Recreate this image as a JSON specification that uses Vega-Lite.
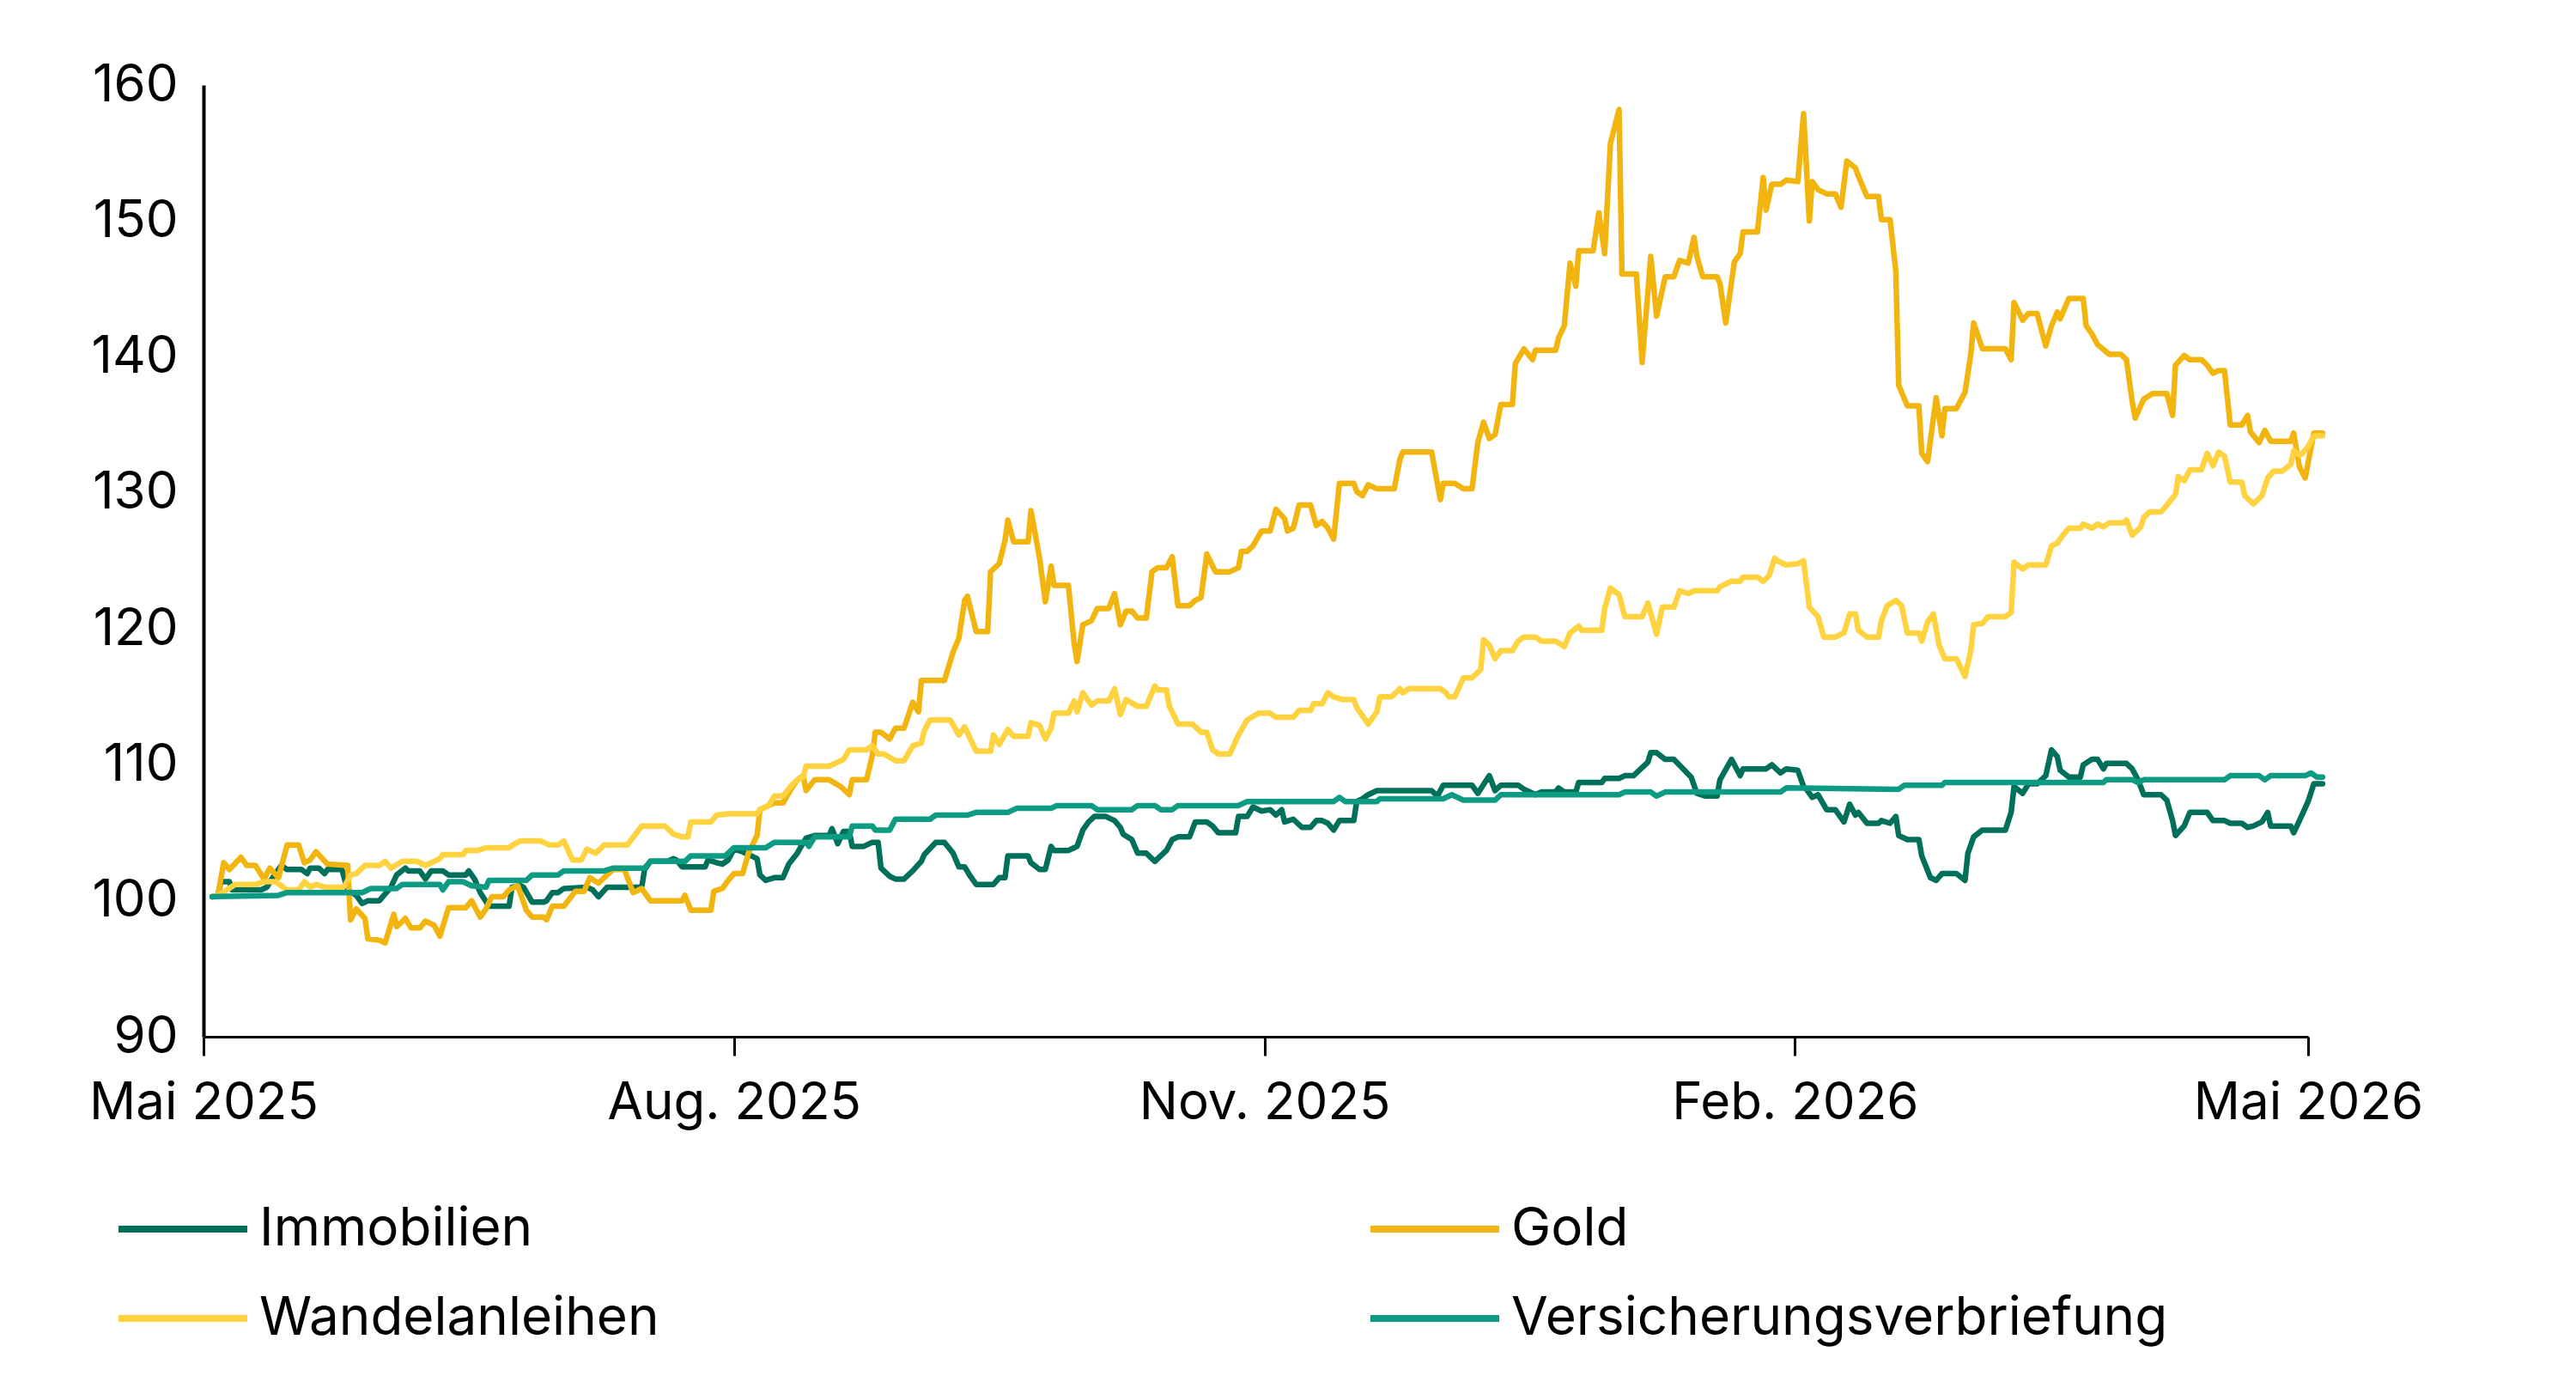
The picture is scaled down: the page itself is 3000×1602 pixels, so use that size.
{
  "$schema": "https://vega.github.io/schema/vega-lite/v6.json",
  "width": 2451,
  "height": 1108,
  "autosize": {"type": "none"},
  "padding": {"left": 237, "top": 99, "right": 312, "bottom": 395},
  "background": "white",
  "config": {
    "view": {"stroke": null},
    "font": "Inter",
    "axis": {"labelFont": "Inter", "labelColor": "#000000", "domainColor": "#000000", "tickColor": "#000000", "grid": false, "title": null},
    "legend": {"labelFont": "Inter", "labelColor": "#000000"}
  },
  "data": {"values": [
{"date":"2025-05-02T12:00","series":"Immobilien","value":100.3},
{"date":"2025-05-03T12:00","series":"Immobilien","value":100.4},
{"date":"2025-05-04T00:00","series":"Immobilien","value":101.4},
{"date":"2025-05-05T12:00","series":"Immobilien","value":101.4},
{"date":"2025-05-06T00:00","series":"Immobilien","value":100.8},
{"date":"2025-05-11T00:00","series":"Immobilien","value":100.8},
{"date":"2025-05-12T00:00","series":"Immobilien","value":101.0},
{"date":"2025-05-13T00:00","series":"Immobilien","value":101.7},
{"date":"2025-05-14T12:00","series":"Immobilien","value":102.6},
{"date":"2025-05-15T12:00","series":"Immobilien","value":102.3},
{"date":"2025-05-18T00:00","series":"Immobilien","value":102.3},
{"date":"2025-05-19T00:00","series":"Immobilien","value":102.0},
{"date":"2025-05-19T12:00","series":"Immobilien","value":102.4},
{"date":"2025-05-21T00:00","series":"Immobilien","value":102.4},
{"date":"2025-05-22T00:00","series":"Immobilien","value":102.0},
{"date":"2025-05-22T12:00","series":"Immobilien","value":102.3},
{"date":"2025-05-25T00:00","series":"Immobilien","value":102.3},
{"date":"2025-05-26T00:00","series":"Immobilien","value":100.8},
{"date":"2025-05-27T12:00","series":"Immobilien","value":100.4},
{"date":"2025-05-28T12:00","series":"Immobilien","value":99.8},
{"date":"2025-05-29T12:00","series":"Immobilien","value":100.0},
{"date":"2025-05-31T12:00","series":"Immobilien","value":100.0},
{"date":"2025-06-02T12:00","series":"Immobilien","value":101.0},
{"date":"2025-06-03T12:00","series":"Immobilien","value":101.9},
{"date":"2025-06-05T00:00","series":"Immobilien","value":102.4},
{"date":"2025-06-05T12:00","series":"Immobilien","value":102.2},
{"date":"2025-06-07T12:00","series":"Immobilien","value":102.2},
{"date":"2025-06-08T12:00","series":"Immobilien","value":101.6},
{"date":"2025-06-09T12:00","series":"Immobilien","value":102.2},
{"date":"2025-06-11T12:00","series":"Immobilien","value":102.2},
{"date":"2025-06-12T12:00","series":"Immobilien","value":101.9},
{"date":"2025-06-15T12:00","series":"Immobilien","value":101.9},
{"date":"2025-06-16T00:00","series":"Immobilien","value":102.2},
{"date":"2025-06-17T00:00","series":"Immobilien","value":101.6},
{"date":"2025-06-18T00:00","series":"Immobilien","value":100.6},
{"date":"2025-06-19T12:00","series":"Immobilien","value":99.6},
{"date":"2025-06-23T00:00","series":"Immobilien","value":99.6},
{"date":"2025-06-23T12:00","series":"Immobilien","value":101.0},
{"date":"2025-06-25T00:00","series":"Immobilien","value":101.1},
{"date":"2025-06-25T12:00","series":"Immobilien","value":101.0},
{"date":"2025-06-27T00:00","series":"Immobilien","value":99.9},
{"date":"2025-06-29T00:00","series":"Immobilien","value":99.9},
{"date":"2025-06-29T12:00","series":"Immobilien","value":100.0},
{"date":"2025-06-30T12:00","series":"Immobilien","value":100.6},
{"date":"2025-07-01T12:00","series":"Immobilien","value":100.6},
{"date":"2025-07-02T12:00","series":"Immobilien","value":100.9},
{"date":"2025-07-06T12:00","series":"Immobilien","value":101.0},
{"date":"2025-07-07T12:00","series":"Immobilien","value":100.8},
{"date":"2025-07-08T12:00","series":"Immobilien","value":100.3},
{"date":"2025-07-10T00:00","series":"Immobilien","value":101.0},
{"date":"2025-07-16T00:00","series":"Immobilien","value":101.0},
{"date":"2025-07-16T12:00","series":"Immobilien","value":102.3},
{"date":"2025-07-17T12:00","series":"Immobilien","value":102.9},
{"date":"2025-07-20T12:00","series":"Immobilien","value":102.9},
{"date":"2025-07-21T12:00","series":"Immobilien","value":103.1},
{"date":"2025-07-22T00:00","series":"Immobilien","value":103.0},
{"date":"2025-07-23T00:00","series":"Immobilien","value":102.5},
{"date":"2025-07-27T00:00","series":"Immobilien","value":102.5},
{"date":"2025-07-27T12:00","series":"Immobilien","value":103.0},
{"date":"2025-07-29T00:00","series":"Immobilien","value":102.8},
{"date":"2025-07-30T00:00","series":"Immobilien","value":102.7},
{"date":"2025-07-31T00:00","series":"Immobilien","value":103.0},
{"date":"2025-08-01T00:00","series":"Immobilien","value":103.8},
{"date":"2025-08-02T12:00","series":"Immobilien","value":103.6},
{"date":"2025-08-03T12:00","series":"Immobilien","value":103.4},
{"date":"2025-08-05T00:00","series":"Immobilien","value":103.1},
{"date":"2025-08-05T12:00","series":"Immobilien","value":101.9},
{"date":"2025-08-06T12:00","series":"Immobilien","value":101.5},
{"date":"2025-08-08T00:00","series":"Immobilien","value":101.7},
{"date":"2025-08-09T12:00","series":"Immobilien","value":101.7},
{"date":"2025-08-10T12:00","series":"Immobilien","value":102.7},
{"date":"2025-08-12T00:00","series":"Immobilien","value":103.5},
{"date":"2025-08-12T12:00","series":"Immobilien","value":103.9},
{"date":"2025-08-13T12:00","series":"Immobilien","value":104.6},
{"date":"2025-08-15T00:00","series":"Immobilien","value":104.8},
{"date":"2025-08-17T12:00","series":"Immobilien","value":104.8},
{"date":"2025-08-18T00:00","series":"Immobilien","value":105.3},
{"date":"2025-08-19T00:00","series":"Immobilien","value":104.2},
{"date":"2025-08-20T00:00","series":"Immobilien","value":105.1},
{"date":"2025-08-21T00:00","series":"Immobilien","value":105.1},
{"date":"2025-08-21T12:00","series":"Immobilien","value":104.0},
{"date":"2025-08-23T12:00","series":"Immobilien","value":104.0},
{"date":"2025-08-25T00:00","series":"Immobilien","value":104.3},
{"date":"2025-08-26T00:00","series":"Immobilien","value":104.3},
{"date":"2025-08-26T12:00","series":"Immobilien","value":102.4},
{"date":"2025-08-28T00:00","series":"Immobilien","value":101.8},
{"date":"2025-08-29T00:00","series":"Immobilien","value":101.6},
{"date":"2025-08-30T12:00","series":"Immobilien","value":101.6},
{"date":"2025-09-01T00:00","series":"Immobilien","value":102.2},
{"date":"2025-09-02T12:00","series":"Immobilien","value":102.9},
{"date":"2025-09-03T00:00","series":"Immobilien","value":103.4},
{"date":"2025-09-05T00:00","series":"Immobilien","value":104.3},
{"date":"2025-09-06T12:00","series":"Immobilien","value":104.3},
{"date":"2025-09-08T00:00","series":"Immobilien","value":103.5},
{"date":"2025-09-09T00:00","series":"Immobilien","value":102.5},
{"date":"2025-09-10T00:00","series":"Immobilien","value":102.5},
{"date":"2025-09-11T00:00","series":"Immobilien","value":101.8},
{"date":"2025-09-12T00:00","series":"Immobilien","value":101.2},
{"date":"2025-09-15T00:00","series":"Immobilien","value":101.2},
{"date":"2025-09-16T00:00","series":"Immobilien","value":101.7},
{"date":"2025-09-17T00:00","series":"Immobilien","value":101.7},
{"date":"2025-09-17T12:00","series":"Immobilien","value":103.3},
{"date":"2025-09-21T00:00","series":"Immobilien","value":103.3},
{"date":"2025-09-21T12:00","series":"Immobilien","value":102.8},
{"date":"2025-09-23T00:00","series":"Immobilien","value":102.3},
{"date":"2025-09-24T00:00","series":"Immobilien","value":102.3},
{"date":"2025-09-25T00:00","series":"Immobilien","value":104.0},
{"date":"2025-09-25T12:00","series":"Immobilien","value":103.7},
{"date":"2025-09-28T00:00","series":"Immobilien","value":103.7},
{"date":"2025-09-29T00:00","series":"Immobilien","value":103.9},
{"date":"2025-09-29T12:00","series":"Immobilien","value":104.0},
{"date":"2025-09-30T12:00","series":"Immobilien","value":105.2},
{"date":"2025-10-01T12:00","series":"Immobilien","value":105.8},
{"date":"2025-10-02T12:00","series":"Immobilien","value":106.2},
{"date":"2025-10-04T12:00","series":"Immobilien","value":106.2},
{"date":"2025-10-06T00:00","series":"Immobilien","value":105.9},
{"date":"2025-10-07T00:00","series":"Immobilien","value":105.4},
{"date":"2025-10-07T12:00","series":"Immobilien","value":104.9},
{"date":"2025-10-09T00:00","series":"Immobilien","value":104.5},
{"date":"2025-10-10T00:00","series":"Immobilien","value":103.5},
{"date":"2025-10-11T12:00","series":"Immobilien","value":103.5},
{"date":"2025-10-13T00:00","series":"Immobilien","value":102.9},
{"date":"2025-10-15T00:00","series":"Immobilien","value":103.7},
{"date":"2025-10-16T00:00","series":"Immobilien","value":104.5},
{"date":"2025-10-17T00:00","series":"Immobilien","value":104.7},
{"date":"2025-10-19T00:00","series":"Immobilien","value":104.7},
{"date":"2025-10-20T00:00","series":"Immobilien","value":105.8},
{"date":"2025-10-22T00:00","series":"Immobilien","value":105.8},
{"date":"2025-10-23T00:00","series":"Immobilien","value":105.5},
{"date":"2025-10-24T00:00","series":"Immobilien","value":105.0},
{"date":"2025-10-27T00:00","series":"Immobilien","value":105.0},
{"date":"2025-10-27T12:00","series":"Immobilien","value":106.2},
{"date":"2025-10-29T00:00","series":"Immobilien","value":106.2},
{"date":"2025-10-30T00:00","series":"Immobilien","value":106.9},
{"date":"2025-10-31T12:00","series":"Immobilien","value":106.6},
{"date":"2025-11-02T00:00","series":"Immobilien","value":106.7},
{"date":"2025-11-03T00:00","series":"Immobilien","value":106.3},
{"date":"2025-11-04T00:00","series":"Immobilien","value":106.7},
{"date":"2025-11-04T12:00","series":"Immobilien","value":105.8},
{"date":"2025-11-06T00:00","series":"Immobilien","value":106.0},
{"date":"2025-11-07T12:00","series":"Immobilien","value":105.4},
{"date":"2025-11-09T00:00","series":"Immobilien","value":105.4},
{"date":"2025-11-10T00:00","series":"Immobilien","value":105.9},
{"date":"2025-11-11T00:00","series":"Immobilien","value":105.9},
{"date":"2025-11-12T00:00","series":"Immobilien","value":105.7},
{"date":"2025-11-13T00:00","series":"Immobilien","value":105.2},
{"date":"2025-11-14T00:00","series":"Immobilien","value":105.9},
{"date":"2025-11-16T12:00","series":"Immobilien","value":105.9},
{"date":"2025-11-17T00:00","series":"Immobilien","value":107.3},
{"date":"2025-11-18T00:00","series":"Immobilien","value":107.5},
{"date":"2025-11-19T00:00","series":"Immobilien","value":107.8},
{"date":"2025-11-20T12:00","series":"Immobilien","value":108.1},
{"date":"2025-11-30T00:00","series":"Immobilien","value":108.1},
{"date":"2025-12-01T00:00","series":"Immobilien","value":107.7},
{"date":"2025-12-02T00:00","series":"Immobilien","value":108.5},
{"date":"2025-12-07T00:00","series":"Immobilien","value":108.5},
{"date":"2025-12-08T00:00","series":"Immobilien","value":107.9},
{"date":"2025-12-10T00:00","series":"Immobilien","value":109.2},
{"date":"2025-12-11T00:00","series":"Immobilien","value":108.1},
{"date":"2025-12-12T00:00","series":"Immobilien","value":108.5},
{"date":"2025-12-15T00:00","series":"Immobilien","value":108.5},
{"date":"2025-12-16T00:00","series":"Immobilien","value":108.2},
{"date":"2025-12-18T00:00","series":"Immobilien","value":107.8},
{"date":"2025-12-19T00:00","series":"Immobilien","value":108.0},
{"date":"2025-12-21T12:00","series":"Immobilien","value":108.0},
{"date":"2025-12-22T00:00","series":"Immobilien","value":108.3},
{"date":"2025-12-23T00:00","series":"Immobilien","value":108.0},
{"date":"2025-12-25T00:00","series":"Immobilien","value":108.0},
{"date":"2025-12-25T12:00","series":"Immobilien","value":108.7},
{"date":"2025-12-29T12:00","series":"Immobilien","value":108.7},
{"date":"2025-12-30T00:00","series":"Immobilien","value":109.0},
{"date":"2026-01-01T12:00","series":"Immobilien","value":109.0},
{"date":"2026-01-02T12:00","series":"Immobilien","value":109.2},
{"date":"2026-01-04T00:00","series":"Immobilien","value":109.2},
{"date":"2026-01-06T12:00","series":"Immobilien","value":110.2},
{"date":"2026-01-07T00:00","series":"Immobilien","value":110.9},
{"date":"2026-01-08T00:00","series":"Immobilien","value":110.9},
{"date":"2026-01-09T12:00","series":"Immobilien","value":110.4},
{"date":"2026-01-11T00:00","series":"Immobilien","value":110.4},
{"date":"2026-01-14T00:00","series":"Immobilien","value":109.1},
{"date":"2026-01-15T00:00","series":"Immobilien","value":107.9},
{"date":"2026-01-16T12:00","series":"Immobilien","value":107.7},
{"date":"2026-01-18T12:00","series":"Immobilien","value":107.7},
{"date":"2026-01-19T00:00","series":"Immobilien","value":108.9},
{"date":"2026-01-21T00:00","series":"Immobilien","value":110.4},
{"date":"2026-01-22T12:00","series":"Immobilien","value":109.2},
{"date":"2026-01-23T00:00","series":"Immobilien","value":109.7},
{"date":"2026-01-27T00:00","series":"Immobilien","value":109.7},
{"date":"2026-01-28T00:00","series":"Immobilien","value":110.0},
{"date":"2026-01-29T12:00","series":"Immobilien","value":109.4},
{"date":"2026-01-30T12:00","series":"Immobilien","value":109.7},
{"date":"2026-02-01T12:00","series":"Immobilien","value":109.6},
{"date":"2026-02-02T12:00","series":"Immobilien","value":108.4},
{"date":"2026-02-03T00:00","series":"Immobilien","value":108.2},
{"date":"2026-02-04T00:00","series":"Immobilien","value":107.6},
{"date":"2026-02-05T00:00","series":"Immobilien","value":107.8},
{"date":"2026-02-06T12:00","series":"Immobilien","value":106.7},
{"date":"2026-02-08T00:00","series":"Immobilien","value":106.7},
{"date":"2026-02-09T12:00","series":"Immobilien","value":105.8},
{"date":"2026-02-10T12:00","series":"Immobilien","value":107.1},
{"date":"2026-02-11T12:00","series":"Immobilien","value":106.3},
{"date":"2026-02-12T00:00","series":"Immobilien","value":106.5},
{"date":"2026-02-13T12:00","series":"Immobilien","value":105.7},
{"date":"2026-02-15T12:00","series":"Immobilien","value":105.7},
{"date":"2026-02-16T00:00","series":"Immobilien","value":105.9},
{"date":"2026-02-17T12:00","series":"Immobilien","value":105.7},
{"date":"2026-02-18T12:00","series":"Immobilien","value":106.2},
{"date":"2026-02-19T00:00","series":"Immobilien","value":104.8},
{"date":"2026-02-20T12:00","series":"Immobilien","value":104.5},
{"date":"2026-02-22T12:00","series":"Immobilien","value":104.5},
{"date":"2026-02-23T00:00","series":"Immobilien","value":103.3},
{"date":"2026-02-24T12:00","series":"Immobilien","value":101.7},
{"date":"2026-02-25T12:00","series":"Immobilien","value":101.5},
{"date":"2026-02-26T12:00","series":"Immobilien","value":102.0},
{"date":"2026-03-01T00:00","series":"Immobilien","value":102.0},
{"date":"2026-03-02T12:00","series":"Immobilien","value":101.5},
{"date":"2026-03-03T00:00","series":"Immobilien","value":103.5},
{"date":"2026-03-04T00:00","series":"Immobilien","value":104.7},
{"date":"2026-03-05T12:00","series":"Immobilien","value":105.2},
{"date":"2026-03-09T12:00","series":"Immobilien","value":105.2},
{"date":"2026-03-10T12:00","series":"Immobilien","value":106.5},
{"date":"2026-03-11T00:00","series":"Immobilien","value":108.4},
{"date":"2026-03-12T12:00","series":"Immobilien","value":107.9},
{"date":"2026-03-13T12:00","series":"Immobilien","value":108.6},
{"date":"2026-03-15T00:00","series":"Immobilien","value":108.6},
{"date":"2026-03-16T12:00","series":"Immobilien","value":109.2},
{"date":"2026-03-17T12:00","series":"Immobilien","value":111.1},
{"date":"2026-03-18T12:00","series":"Immobilien","value":110.6},
{"date":"2026-03-19T00:00","series":"Immobilien","value":109.6},
{"date":"2026-03-20T12:00","series":"Immobilien","value":109.1},
{"date":"2026-03-22T12:00","series":"Immobilien","value":109.1},
{"date":"2026-03-23T00:00","series":"Immobilien","value":110.0},
{"date":"2026-03-24T12:00","series":"Immobilien","value":110.4},
{"date":"2026-03-25T12:00","series":"Immobilien","value":110.4},
{"date":"2026-03-26T12:00","series":"Immobilien","value":109.7},
{"date":"2026-03-27T00:00","series":"Immobilien","value":110.1},
{"date":"2026-03-30T12:00","series":"Immobilien","value":110.1},
{"date":"2026-03-31T12:00","series":"Immobilien","value":109.7},
{"date":"2026-04-01T12:00","series":"Immobilien","value":108.9},
{"date":"2026-04-02T12:00","series":"Immobilien","value":107.8},
{"date":"2026-04-05T12:00","series":"Immobilien","value":107.8},
{"date":"2026-04-06T12:00","series":"Immobilien","value":107.4},
{"date":"2026-04-07T12:00","series":"Immobilien","value":105.9},
{"date":"2026-04-08T00:00","series":"Immobilien","value":104.8},
{"date":"2026-04-09T12:00","series":"Immobilien","value":105.5},
{"date":"2026-04-10T12:00","series":"Immobilien","value":106.5},
{"date":"2026-04-13T12:00","series":"Immobilien","value":106.5},
{"date":"2026-04-14T12:00","series":"Immobilien","value":105.9},
{"date":"2026-04-16T12:00","series":"Immobilien","value":105.9},
{"date":"2026-04-17T12:00","series":"Immobilien","value":105.7},
{"date":"2026-04-19T12:00","series":"Immobilien","value":105.7},
{"date":"2026-04-20T12:00","series":"Immobilien","value":105.4},
{"date":"2026-04-21T12:00","series":"Immobilien","value":105.5},
{"date":"2026-04-23T00:00","series":"Immobilien","value":105.8},
{"date":"2026-04-24T00:00","series":"Immobilien","value":106.5},
{"date":"2026-04-24T12:00","series":"Immobilien","value":105.5},
{"date":"2026-04-28T00:00","series":"Immobilien","value":105.5},
{"date":"2026-04-28T12:00","series":"Immobilien","value":105.0},
{"date":"2026-04-29T12:00","series":"Immobilien","value":105.9},
{"date":"2026-05-01T00:00","series":"Immobilien","value":107.3},
{"date":"2026-05-02T00:00","series":"Immobilien","value":108.6},
{"date":"2026-05-03T12:00","series":"Immobilien","value":108.6},
{"date":"2025-05-02T12:00","series":"Gold","value":100.3},
{"date":"2025-05-03T12:00","series":"Gold","value":100.4},
{"date":"2025-05-04T12:00","series":"Gold","value":102.8},
{"date":"2025-05-05T12:00","series":"Gold","value":102.3},
{"date":"2025-05-07T12:00","series":"Gold","value":103.2},
{"date":"2025-05-08T12:00","series":"Gold","value":102.6},
{"date":"2025-05-10T00:00","series":"Gold","value":102.6},
{"date":"2025-05-11T12:00","series":"Gold","value":101.6},
{"date":"2025-05-12T12:00","series":"Gold","value":102.4},
{"date":"2025-05-14T00:00","series":"Gold","value":101.7},
{"date":"2025-05-15T12:00","series":"Gold","value":104.1},
{"date":"2025-05-17T12:00","series":"Gold","value":104.1},
{"date":"2025-05-18T12:00","series":"Gold","value":102.8},
{"date":"2025-05-19T12:00","series":"Gold","value":103.0},
{"date":"2025-05-20T12:00","series":"Gold","value":103.6},
{"date":"2025-05-22T12:00","series":"Gold","value":102.7},
{"date":"2025-05-26T00:00","series":"Gold","value":102.6},
{"date":"2025-05-26T12:00","series":"Gold","value":98.6},
{"date":"2025-05-27T12:00","series":"Gold","value":99.4},
{"date":"2025-05-29T00:00","series":"Gold","value":98.7},
{"date":"2025-05-29T12:00","series":"Gold","value":97.2},
{"date":"2025-05-31T12:00","series":"Gold","value":97.1},
{"date":"2025-06-01T12:00","series":"Gold","value":96.9},
{"date":"2025-06-03T00:00","series":"Gold","value":99.0},
{"date":"2025-06-03T12:00","series":"Gold","value":98.1},
{"date":"2025-06-05T00:00","series":"Gold","value":98.7},
{"date":"2025-06-06T00:00","series":"Gold","value":98.0},
{"date":"2025-06-07T12:00","series":"Gold","value":98.0},
{"date":"2025-06-08T12:00","series":"Gold","value":98.5},
{"date":"2025-06-10T00:00","series":"Gold","value":98.2},
{"date":"2025-06-11T00:00","series":"Gold","value":97.4},
{"date":"2025-06-12T12:00","series":"Gold","value":99.5},
{"date":"2025-06-15T12:00","series":"Gold","value":99.5},
{"date":"2025-06-16T12:00","series":"Gold","value":100.0},
{"date":"2025-06-18T00:00","series":"Gold","value":98.8},
{"date":"2025-06-19T00:00","series":"Gold","value":99.4},
{"date":"2025-06-20T00:00","series":"Gold","value":100.3},
{"date":"2025-06-22T00:00","series":"Gold","value":100.3},
{"date":"2025-06-23T00:00","series":"Gold","value":100.8},
{"date":"2025-06-24T12:00","series":"Gold","value":101.1},
{"date":"2025-06-26T00:00","series":"Gold","value":99.3},
{"date":"2025-06-27T00:00","series":"Gold","value":98.8},
{"date":"2025-06-29T00:00","series":"Gold","value":98.8},
{"date":"2025-06-29T12:00","series":"Gold","value":98.6},
{"date":"2025-06-30T12:00","series":"Gold","value":99.6},
{"date":"2025-07-02T12:00","series":"Gold","value":99.6},
{"date":"2025-07-04T12:00","series":"Gold","value":100.7},
{"date":"2025-07-06T00:00","series":"Gold","value":100.7},
{"date":"2025-07-07T00:00","series":"Gold","value":101.7},
{"date":"2025-07-08T12:00","series":"Gold","value":101.3},
{"date":"2025-07-11T00:00","series":"Gold","value":102.3},
{"date":"2025-07-13T00:00","series":"Gold","value":102.3},
{"date":"2025-07-14T12:00","series":"Gold","value":100.6},
{"date":"2025-07-16T00:00","series":"Gold","value":100.9},
{"date":"2025-07-17T12:00","series":"Gold","value":100.0},
{"date":"2025-07-23T00:00","series":"Gold","value":100.0},
{"date":"2025-07-23T12:00","series":"Gold","value":100.4},
{"date":"2025-07-24T12:00","series":"Gold","value":99.3},
{"date":"2025-07-28T00:00","series":"Gold","value":99.3},
{"date":"2025-07-28T12:00","series":"Gold","value":100.7},
{"date":"2025-07-30T00:00","series":"Gold","value":100.9},
{"date":"2025-07-31T00:00","series":"Gold","value":101.5},
{"date":"2025-08-01T00:00","series":"Gold","value":102.0},
{"date":"2025-08-02T12:00","series":"Gold","value":102.0},
{"date":"2025-08-03T12:00","series":"Gold","value":103.5},
{"date":"2025-08-05T00:00","series":"Gold","value":104.8},
{"date":"2025-08-05T12:00","series":"Gold","value":106.7},
{"date":"2025-08-08T00:00","series":"Gold","value":107.2},
{"date":"2025-08-09T12:00","series":"Gold","value":107.2},
{"date":"2025-08-11T00:00","series":"Gold","value":108.3},
{"date":"2025-08-12T00:00","series":"Gold","value":108.9},
{"date":"2025-08-13T00:00","series":"Gold","value":109.2},
{"date":"2025-08-13T12:00","series":"Gold","value":108.1},
{"date":"2025-08-15T00:00","series":"Gold","value":108.9},
{"date":"2025-08-17T12:00","series":"Gold","value":108.9},
{"date":"2025-08-19T12:00","series":"Gold","value":108.4},
{"date":"2025-08-21T00:00","series":"Gold","value":107.8},
{"date":"2025-08-21T12:00","series":"Gold","value":108.9},
{"date":"2025-08-24T00:00","series":"Gold","value":108.9},
{"date":"2025-08-25T00:00","series":"Gold","value":110.7},
{"date":"2025-08-25T12:00","series":"Gold","value":112.4},
{"date":"2025-08-26T12:00","series":"Gold","value":112.4},
{"date":"2025-08-28T00:00","series":"Gold","value":111.9},
{"date":"2025-08-29T00:00","series":"Gold","value":112.7},
{"date":"2025-08-30T12:00","series":"Gold","value":112.7},
{"date":"2025-09-01T00:00","series":"Gold","value":114.6},
{"date":"2025-09-02T00:00","series":"Gold","value":113.9},
{"date":"2025-09-02T12:00","series":"Gold","value":116.2},
{"date":"2025-09-06T12:00","series":"Gold","value":116.2},
{"date":"2025-09-08T00:00","series":"Gold","value":118.3},
{"date":"2025-09-09T00:00","series":"Gold","value":119.3},
{"date":"2025-09-10T00:00","series":"Gold","value":122.1},
{"date":"2025-09-10T12:00","series":"Gold","value":122.4},
{"date":"2025-09-12T00:00","series":"Gold","value":119.8},
{"date":"2025-09-14T00:00","series":"Gold","value":119.8},
{"date":"2025-09-14T12:00","series":"Gold","value":124.2},
{"date":"2025-09-16T00:00","series":"Gold","value":124.8},
{"date":"2025-09-17T00:00","series":"Gold","value":126.5},
{"date":"2025-09-17T12:00","series":"Gold","value":128.0},
{"date":"2025-09-18T12:00","series":"Gold","value":126.4},
{"date":"2025-09-21T00:00","series":"Gold","value":126.4},
{"date":"2025-09-21T12:00","series":"Gold","value":128.7},
{"date":"2025-09-23T00:00","series":"Gold","value":125.2},
{"date":"2025-09-24T00:00","series":"Gold","value":122.0},
{"date":"2025-09-25T00:00","series":"Gold","value":124.6},
{"date":"2025-09-25T12:00","series":"Gold","value":123.2},
{"date":"2025-09-28T00:00","series":"Gold","value":123.2},
{"date":"2025-09-29T00:00","series":"Gold","value":118.9},
{"date":"2025-09-29T12:00","series":"Gold","value":117.6},
{"date":"2025-09-30T12:00","series":"Gold","value":120.3},
{"date":"2025-10-02T00:00","series":"Gold","value":120.6},
{"date":"2025-10-03T00:00","series":"Gold","value":121.5},
{"date":"2025-10-05T00:00","series":"Gold","value":121.5},
{"date":"2025-10-06T00:00","series":"Gold","value":122.6},
{"date":"2025-10-07T00:00","series":"Gold","value":120.3},
{"date":"2025-10-08T00:00","series":"Gold","value":121.3},
{"date":"2025-10-09T00:00","series":"Gold","value":121.3},
{"date":"2025-10-10T00:00","series":"Gold","value":120.8},
{"date":"2025-10-11T12:00","series":"Gold","value":120.8},
{"date":"2025-10-12T12:00","series":"Gold","value":124.2},
{"date":"2025-10-13T12:00","series":"Gold","value":124.5},
{"date":"2025-10-15T00:00","series":"Gold","value":124.5},
{"date":"2025-10-16T00:00","series":"Gold","value":125.3},
{"date":"2025-10-17T00:00","series":"Gold","value":121.7},
{"date":"2025-10-19T00:00","series":"Gold","value":121.7},
{"date":"2025-10-20T00:00","series":"Gold","value":122.1},
{"date":"2025-10-21T00:00","series":"Gold","value":122.3},
{"date":"2025-10-22T00:00","series":"Gold","value":125.5},
{"date":"2025-10-23T12:00","series":"Gold","value":124.2},
{"date":"2025-10-26T00:00","series":"Gold","value":124.2},
{"date":"2025-10-27T12:00","series":"Gold","value":124.5},
{"date":"2025-10-28T00:00","series":"Gold","value":125.7},
{"date":"2025-10-29T00:00","series":"Gold","value":125.7},
{"date":"2025-10-30T00:00","series":"Gold","value":126.1},
{"date":"2025-10-31T12:00","series":"Gold","value":127.2},
{"date":"2025-11-02T00:00","series":"Gold","value":127.2},
{"date":"2025-11-03T00:00","series":"Gold","value":128.8},
{"date":"2025-11-04T12:00","series":"Gold","value":128.1},
{"date":"2025-11-05T00:00","series":"Gold","value":127.2},
{"date":"2025-11-06T00:00","series":"Gold","value":127.4},
{"date":"2025-11-07T00:00","series":"Gold","value":129.1},
{"date":"2025-11-09T00:00","series":"Gold","value":129.1},
{"date":"2025-11-10T00:00","series":"Gold","value":127.6},
{"date":"2025-11-11T00:00","series":"Gold","value":127.9},
{"date":"2025-11-12T00:00","series":"Gold","value":127.4},
{"date":"2025-11-13T00:00","series":"Gold","value":126.6},
{"date":"2025-11-14T00:00","series":"Gold","value":130.7},
{"date":"2025-11-16T12:00","series":"Gold","value":130.7},
{"date":"2025-11-17T00:00","series":"Gold","value":130.1},
{"date":"2025-11-18T00:00","series":"Gold","value":129.8},
{"date":"2025-11-19T00:00","series":"Gold","value":130.6},
{"date":"2025-11-20T12:00","series":"Gold","value":130.3},
{"date":"2025-11-23T12:00","series":"Gold","value":130.3},
{"date":"2025-11-24T12:00","series":"Gold","value":132.5},
{"date":"2025-11-25T00:00","series":"Gold","value":133.0},
{"date":"2025-11-30T00:00","series":"Gold","value":133.0},
{"date":"2025-12-01T12:00","series":"Gold","value":129.5},
{"date":"2025-12-02T00:00","series":"Gold","value":130.7},
{"date":"2025-12-04T00:00","series":"Gold","value":130.7},
{"date":"2025-12-05T12:00","series":"Gold","value":130.3},
{"date":"2025-12-07T00:00","series":"Gold","value":130.3},
{"date":"2025-12-08T00:00","series":"Gold","value":133.7},
{"date":"2025-12-09T00:00","series":"Gold","value":135.2},
{"date":"2025-12-10T00:00","series":"Gold","value":134.0},
{"date":"2025-12-11T00:00","series":"Gold","value":134.3},
{"date":"2025-12-12T00:00","series":"Gold","value":136.5},
{"date":"2025-12-14T00:00","series":"Gold","value":136.5},
{"date":"2025-12-14T12:00","series":"Gold","value":139.5},
{"date":"2025-12-16T00:00","series":"Gold","value":140.6},
{"date":"2025-12-17T12:00","series":"Gold","value":139.8},
{"date":"2025-12-18T00:00","series":"Gold","value":140.5},
{"date":"2025-12-21T12:00","series":"Gold","value":140.5},
{"date":"2025-12-22T00:00","series":"Gold","value":141.4},
{"date":"2025-12-23T00:00","series":"Gold","value":142.3},
{"date":"2025-12-24T00:00","series":"Gold","value":146.9},
{"date":"2025-12-25T00:00","series":"Gold","value":145.2},
{"date":"2025-12-25T12:00","series":"Gold","value":147.8},
{"date":"2025-12-28T00:00","series":"Gold","value":147.8},
{"date":"2025-12-29T00:00","series":"Gold","value":150.6},
{"date":"2025-12-30T00:00","series":"Gold","value":147.6},
{"date":"2025-12-31T00:00","series":"Gold","value":155.7},
{"date":"2026-01-01T12:00","series":"Gold","value":158.2},
{"date":"2026-01-02T00:00","series":"Gold","value":146.1},
{"date":"2026-01-04T12:00","series":"Gold","value":146.1},
{"date":"2026-01-05T12:00","series":"Gold","value":139.6},
{"date":"2026-01-07T00:00","series":"Gold","value":147.4},
{"date":"2026-01-08T00:00","series":"Gold","value":143.0},
{"date":"2026-01-09T12:00","series":"Gold","value":145.9},
{"date":"2026-01-11T00:00","series":"Gold","value":145.9},
{"date":"2026-01-12T00:00","series":"Gold","value":147.1},
{"date":"2026-01-13T12:00","series":"Gold","value":146.9},
{"date":"2026-01-14T12:00","series":"Gold","value":148.8},
{"date":"2026-01-15T00:00","series":"Gold","value":147.4},
{"date":"2026-01-16T00:00","series":"Gold","value":145.9},
{"date":"2026-01-18T12:00","series":"Gold","value":145.9},
{"date":"2026-01-19T00:00","series":"Gold","value":145.4},
{"date":"2026-01-20T00:00","series":"Gold","value":142.5},
{"date":"2026-01-21T12:00","series":"Gold","value":147.0},
{"date":"2026-01-22T12:00","series":"Gold","value":147.6},
{"date":"2026-01-23T00:00","series":"Gold","value":149.2},
{"date":"2026-01-25T12:00","series":"Gold","value":149.2},
{"date":"2026-01-26T12:00","series":"Gold","value":153.2},
{"date":"2026-01-27T00:00","series":"Gold","value":150.8},
{"date":"2026-01-28T00:00","series":"Gold","value":152.7},
{"date":"2026-01-29T12:00","series":"Gold","value":152.7},
{"date":"2026-01-30T12:00","series":"Gold","value":153.0},
{"date":"2026-02-01T12:00","series":"Gold","value":152.9},
{"date":"2026-02-02T12:00","series":"Gold","value":157.9},
{"date":"2026-02-03T12:00","series":"Gold","value":150.0},
{"date":"2026-02-04T00:00","series":"Gold","value":152.9},
{"date":"2026-02-05T00:00","series":"Gold","value":152.3},
{"date":"2026-02-06T12:00","series":"Gold","value":152.0},
{"date":"2026-02-08T00:00","series":"Gold","value":152.0},
{"date":"2026-02-09T00:00","series":"Gold","value":151.0},
{"date":"2026-02-10T00:00","series":"Gold","value":154.4},
{"date":"2026-02-11T12:00","series":"Gold","value":153.9},
{"date":"2026-02-12T00:00","series":"Gold","value":153.3},
{"date":"2026-02-13T12:00","series":"Gold","value":151.8},
{"date":"2026-02-15T12:00","series":"Gold","value":151.8},
{"date":"2026-02-16T00:00","series":"Gold","value":150.1},
{"date":"2026-02-17T12:00","series":"Gold","value":150.1},
{"date":"2026-02-18T12:00","series":"Gold","value":146.3},
{"date":"2026-02-19T00:00","series":"Gold","value":137.9},
{"date":"2026-02-20T12:00","series":"Gold","value":136.4},
{"date":"2026-02-22T12:00","series":"Gold","value":136.4},
{"date":"2026-02-23T00:00","series":"Gold","value":132.9},
{"date":"2026-02-24T00:00","series":"Gold","value":132.3},
{"date":"2026-02-25T12:00","series":"Gold","value":137.0},
{"date":"2026-02-26T12:00","series":"Gold","value":134.2},
{"date":"2026-02-27T00:00","series":"Gold","value":136.2},
{"date":"2026-03-01T00:00","series":"Gold","value":136.2},
{"date":"2026-03-02T12:00","series":"Gold","value":137.4},
{"date":"2026-03-03T12:00","series":"Gold","value":140.2},
{"date":"2026-03-04T00:00","series":"Gold","value":142.5},
{"date":"2026-03-05T12:00","series":"Gold","value":140.6},
{"date":"2026-03-09T12:00","series":"Gold","value":140.6},
{"date":"2026-03-10T12:00","series":"Gold","value":139.8},
{"date":"2026-03-11T00:00","series":"Gold","value":144.0},
{"date":"2026-03-12T12:00","series":"Gold","value":142.7},
{"date":"2026-03-13T12:00","series":"Gold","value":143.2},
{"date":"2026-03-15T00:00","series":"Gold","value":143.2},
{"date":"2026-03-16T12:00","series":"Gold","value":140.8},
{"date":"2026-03-17T12:00","series":"Gold","value":142.3},
{"date":"2026-03-18T12:00","series":"Gold","value":143.3},
{"date":"2026-03-19T00:00","series":"Gold","value":142.8},
{"date":"2026-03-20T12:00","series":"Gold","value":144.3},
{"date":"2026-03-23T00:00","series":"Gold","value":144.3},
{"date":"2026-03-23T12:00","series":"Gold","value":142.3},
{"date":"2026-03-24T12:00","series":"Gold","value":141.7},
{"date":"2026-03-25T12:00","series":"Gold","value":140.9},
{"date":"2026-03-27T12:00","series":"Gold","value":140.2},
{"date":"2026-03-29T12:00","series":"Gold","value":140.2},
{"date":"2026-03-30T12:00","series":"Gold","value":139.8},
{"date":"2026-03-31T12:00","series":"Gold","value":136.7},
{"date":"2026-04-01T00:00","series":"Gold","value":135.5},
{"date":"2026-04-02T12:00","series":"Gold","value":136.9},
{"date":"2026-04-04T00:00","series":"Gold","value":137.3},
{"date":"2026-04-06T12:00","series":"Gold","value":137.3},
{"date":"2026-04-07T12:00","series":"Gold","value":135.7},
{"date":"2026-04-08T00:00","series":"Gold","value":139.4},
{"date":"2026-04-09T12:00","series":"Gold","value":140.1},
{"date":"2026-04-10T12:00","series":"Gold","value":139.8},
{"date":"2026-04-12T12:00","series":"Gold","value":139.8},
{"date":"2026-04-13T12:00","series":"Gold","value":139.4},
{"date":"2026-04-14T12:00","series":"Gold","value":138.8},
{"date":"2026-04-15T12:00","series":"Gold","value":139.0},
{"date":"2026-04-16T12:00","series":"Gold","value":139.0},
{"date":"2026-04-17T12:00","series":"Gold","value":135.0},
{"date":"2026-04-19T12:00","series":"Gold","value":135.0},
{"date":"2026-04-20T12:00","series":"Gold","value":135.7},
{"date":"2026-04-21T00:00","series":"Gold","value":134.5},
{"date":"2026-04-22T12:00","series":"Gold","value":133.7},
{"date":"2026-04-23T12:00","series":"Gold","value":134.6},
{"date":"2026-04-24T12:00","series":"Gold","value":133.8},
{"date":"2026-04-28T00:00","series":"Gold","value":133.8},
{"date":"2026-04-28T12:00","series":"Gold","value":134.4},
{"date":"2026-04-29T12:00","series":"Gold","value":131.9},
{"date":"2026-04-30T12:00","series":"Gold","value":131.1},
{"date":"2026-05-02T00:00","series":"Gold","value":134.4},
{"date":"2026-05-03T12:00","series":"Gold","value":134.4},
{"date":"2025-05-02T12:00","series":"Wandelanleihen","value":100.3},
{"date":"2025-05-03T12:00","series":"Wandelanleihen","value":100.4},
{"date":"2025-05-06T12:00","series":"Wandelanleihen","value":101.2},
{"date":"2025-05-10T00:00","series":"Wandelanleihen","value":101.2},
{"date":"2025-05-11T12:00","series":"Wandelanleihen","value":101.4},
{"date":"2025-05-13T12:00","series":"Wandelanleihen","value":101.4},
{"date":"2025-05-15T12:00","series":"Wandelanleihen","value":100.8},
{"date":"2025-05-17T12:00","series":"Wandelanleihen","value":100.8},
{"date":"2025-05-18T12:00","series":"Wandelanleihen","value":101.4},
{"date":"2025-05-19T12:00","series":"Wandelanleihen","value":101.0},
{"date":"2025-05-20T12:00","series":"Wandelanleihen","value":101.2},
{"date":"2025-05-22T00:00","series":"Wandelanleihen","value":101.0},
{"date":"2025-05-25T00:00","series":"Wandelanleihen","value":101.0},
{"date":"2025-05-25T12:00","series":"Wandelanleihen","value":101.1},
{"date":"2025-05-26T12:00","series":"Wandelanleihen","value":101.9},
{"date":"2025-05-27T12:00","series":"Wandelanleihen","value":102.0},
{"date":"2025-05-29T00:00","series":"Wandelanleihen","value":102.6},
{"date":"2025-05-31T12:00","series":"Wandelanleihen","value":102.6},
{"date":"2025-06-01T12:00","series":"Wandelanleihen","value":102.9},
{"date":"2025-06-02T12:00","series":"Wandelanleihen","value":102.4},
{"date":"2025-06-04T12:00","series":"Wandelanleihen","value":102.9},
{"date":"2025-06-07T00:00","series":"Wandelanleihen","value":102.9},
{"date":"2025-06-08T12:00","series":"Wandelanleihen","value":102.6},
{"date":"2025-06-11T00:00","series":"Wandelanleihen","value":103.1},
{"date":"2025-06-11T12:00","series":"Wandelanleihen","value":103.4},
{"date":"2025-06-15T00:00","series":"Wandelanleihen","value":103.4},
{"date":"2025-06-15T12:00","series":"Wandelanleihen","value":103.7},
{"date":"2025-06-17T12:00","series":"Wandelanleihen","value":103.7},
{"date":"2025-06-19T00:00","series":"Wandelanleihen","value":103.9},
{"date":"2025-06-23T00:00","series":"Wandelanleihen","value":103.9},
{"date":"2025-06-24T00:00","series":"Wandelanleihen","value":104.2},
{"date":"2025-06-25T00:00","series":"Wandelanleihen","value":104.4},
{"date":"2025-06-28T12:00","series":"Wandelanleihen","value":104.4},
{"date":"2025-06-30T00:00","series":"Wandelanleihen","value":104.1},
{"date":"2025-07-01T12:00","series":"Wandelanleihen","value":104.1},
{"date":"2025-07-02T12:00","series":"Wandelanleihen","value":104.4},
{"date":"2025-07-04T00:00","series":"Wandelanleihen","value":103.0},
{"date":"2025-07-05T12:00","series":"Wandelanleihen","value":103.0},
{"date":"2025-07-06T12:00","series":"Wandelanleihen","value":103.8},
{"date":"2025-07-08T00:00","series":"Wandelanleihen","value":103.5},
{"date":"2025-07-09T12:00","series":"Wandelanleihen","value":104.1},
{"date":"2025-07-13T12:00","series":"Wandelanleihen","value":104.1},
{"date":"2025-07-16T00:00","series":"Wandelanleihen","value":105.5},
{"date":"2025-07-20T00:00","series":"Wandelanleihen","value":105.5},
{"date":"2025-07-21T12:00","series":"Wandelanleihen","value":104.9},
{"date":"2025-07-23T00:00","series":"Wandelanleihen","value":104.7},
{"date":"2025-07-24T00:00","series":"Wandelanleihen","value":104.7},
{"date":"2025-07-24T12:00","series":"Wandelanleihen","value":105.8},
{"date":"2025-07-28T00:00","series":"Wandelanleihen","value":105.8},
{"date":"2025-07-29T00:00","series":"Wandelanleihen","value":106.3},
{"date":"2025-07-31T00:00","series":"Wandelanleihen","value":106.4},
{"date":"2025-08-05T00:00","series":"Wandelanleihen","value":106.4},
{"date":"2025-08-05T12:00","series":"Wandelanleihen","value":106.7},
{"date":"2025-08-07T00:00","series":"Wandelanleihen","value":107.0},
{"date":"2025-08-08T00:00","series":"Wandelanleihen","value":107.7},
{"date":"2025-08-09T12:00","series":"Wandelanleihen","value":107.7},
{"date":"2025-08-11T00:00","series":"Wandelanleihen","value":108.5},
{"date":"2025-08-12T00:00","series":"Wandelanleihen","value":108.9},
{"date":"2025-08-13T00:00","series":"Wandelanleihen","value":109.1},
{"date":"2025-08-13T12:00","series":"Wandelanleihen","value":109.9},
{"date":"2025-08-17T12:00","series":"Wandelanleihen","value":109.9},
{"date":"2025-08-20T00:00","series":"Wandelanleihen","value":110.4},
{"date":"2025-08-21T00:00","series":"Wandelanleihen","value":111.1},
{"date":"2025-08-24T00:00","series":"Wandelanleihen","value":111.1},
{"date":"2025-08-25T00:00","series":"Wandelanleihen","value":111.4},
{"date":"2025-08-26T00:00","series":"Wandelanleihen","value":110.8},
{"date":"2025-08-27T00:00","series":"Wandelanleihen","value":110.8},
{"date":"2025-08-29T00:00","series":"Wandelanleihen","value":110.3},
{"date":"2025-08-30T12:00","series":"Wandelanleihen","value":110.3},
{"date":"2025-09-01T00:00","series":"Wandelanleihen","value":111.4},
{"date":"2025-09-02T12:00","series":"Wandelanleihen","value":111.6},
{"date":"2025-09-03T00:00","series":"Wandelanleihen","value":112.5},
{"date":"2025-09-04T00:00","series":"Wandelanleihen","value":113.3},
{"date":"2025-09-07T12:00","series":"Wandelanleihen","value":113.3},
{"date":"2025-09-09T00:00","series":"Wandelanleihen","value":112.2},
{"date":"2025-09-10T00:00","series":"Wandelanleihen","value":112.8},
{"date":"2025-09-11T00:00","series":"Wandelanleihen","value":111.9},
{"date":"2025-09-12T00:00","series":"Wandelanleihen","value":111.0},
{"date":"2025-09-14T12:00","series":"Wandelanleihen","value":111.0},
{"date":"2025-09-15T00:00","series":"Wandelanleihen","value":112.2},
{"date":"2025-09-16T00:00","series":"Wandelanleihen","value":111.5},
{"date":"2025-09-17T12:00","series":"Wandelanleihen","value":112.6},
{"date":"2025-09-18T12:00","series":"Wandelanleihen","value":112.1},
{"date":"2025-09-21T00:00","series":"Wandelanleihen","value":112.1},
{"date":"2025-09-21T12:00","series":"Wandelanleihen","value":113.1},
{"date":"2025-09-23T00:00","series":"Wandelanleihen","value":112.9},
{"date":"2025-09-24T00:00","series":"Wandelanleihen","value":111.9},
{"date":"2025-09-25T00:00","series":"Wandelanleihen","value":112.7},
{"date":"2025-09-25T12:00","series":"Wandelanleihen","value":113.8},
{"date":"2025-09-28T00:00","series":"Wandelanleihen","value":113.8},
{"date":"2025-09-29T00:00","series":"Wandelanleihen","value":114.7},
{"date":"2025-09-29T12:00","series":"Wandelanleihen","value":113.9},
{"date":"2025-09-30T12:00","series":"Wandelanleihen","value":115.3},
{"date":"2025-10-02T00:00","series":"Wandelanleihen","value":114.4},
{"date":"2025-10-03T00:00","series":"Wandelanleihen","value":114.7},
{"date":"2025-10-05T00:00","series":"Wandelanleihen","value":114.7},
{"date":"2025-10-06T00:00","series":"Wandelanleihen","value":115.6},
{"date":"2025-10-07T00:00","series":"Wandelanleihen","value":113.7},
{"date":"2025-10-08T00:00","series":"Wandelanleihen","value":114.8},
{"date":"2025-10-10T00:00","series":"Wandelanleihen","value":114.3},
{"date":"2025-10-11T12:00","series":"Wandelanleihen","value":114.3},
{"date":"2025-10-13T00:00","series":"Wandelanleihen","value":115.8},
{"date":"2025-10-13T12:00","series":"Wandelanleihen","value":115.5},
{"date":"2025-10-15T00:00","series":"Wandelanleihen","value":115.5},
{"date":"2025-10-15T12:00","series":"Wandelanleihen","value":114.3},
{"date":"2025-10-17T00:00","series":"Wandelanleihen","value":113.0},
{"date":"2025-10-19T12:00","series":"Wandelanleihen","value":113.0},
{"date":"2025-10-21T00:00","series":"Wandelanleihen","value":112.4},
{"date":"2025-10-22T00:00","series":"Wandelanleihen","value":112.4},
{"date":"2025-10-23T00:00","series":"Wandelanleihen","value":111.1},
{"date":"2025-10-24T00:00","series":"Wandelanleihen","value":110.8},
{"date":"2025-10-26T00:00","series":"Wandelanleihen","value":110.8},
{"date":"2025-10-27T12:00","series":"Wandelanleihen","value":112.2},
{"date":"2025-10-29T00:00","series":"Wandelanleihen","value":113.3},
{"date":"2025-10-31T00:00","series":"Wandelanleihen","value":113.8},
{"date":"2025-11-02T00:00","series":"Wandelanleihen","value":113.8},
{"date":"2025-11-03T00:00","series":"Wandelanleihen","value":113.5},
{"date":"2025-11-06T00:00","series":"Wandelanleihen","value":113.5},
{"date":"2025-11-07T00:00","series":"Wandelanleihen","value":114.0},
{"date":"2025-11-09T00:00","series":"Wandelanleihen","value":114.0},
{"date":"2025-11-09T12:00","series":"Wandelanleihen","value":114.5},
{"date":"2025-11-11T00:00","series":"Wandelanleihen","value":114.5},
{"date":"2025-11-12T00:00","series":"Wandelanleihen","value":115.3},
{"date":"2025-11-13T00:00","series":"Wandelanleihen","value":115.0},
{"date":"2025-11-14T12:00","series":"Wandelanleihen","value":114.8},
{"date":"2025-11-16T12:00","series":"Wandelanleihen","value":114.8},
{"date":"2025-11-17T00:00","series":"Wandelanleihen","value":114.2},
{"date":"2025-11-18T00:00","series":"Wandelanleihen","value":113.6},
{"date":"2025-11-19T00:00","series":"Wandelanleihen","value":113.0},
{"date":"2025-11-20T12:00","series":"Wandelanleihen","value":113.9},
{"date":"2025-11-21T00:00","series":"Wandelanleihen","value":115.0},
{"date":"2025-11-23T00:00","series":"Wandelanleihen","value":115.0},
{"date":"2025-11-24T12:00","series":"Wandelanleihen","value":115.6},
{"date":"2025-11-25T00:00","series":"Wandelanleihen","value":115.3},
{"date":"2025-11-26T00:00","series":"Wandelanleihen","value":115.6},
{"date":"2025-12-01T12:00","series":"Wandelanleihen","value":115.6},
{"date":"2025-12-02T12:00","series":"Wandelanleihen","value":115.3},
{"date":"2025-12-03T00:00","series":"Wandelanleihen","value":115.0},
{"date":"2025-12-04T00:00","series":"Wandelanleihen","value":115.0},
{"date":"2025-12-05T12:00","series":"Wandelanleihen","value":116.4},
{"date":"2025-12-07T00:00","series":"Wandelanleihen","value":116.4},
{"date":"2025-12-08T12:00","series":"Wandelanleihen","value":117.0},
{"date":"2025-12-09T00:00","series":"Wandelanleihen","value":119.2},
{"date":"2025-12-10T00:00","series":"Wandelanleihen","value":118.8},
{"date":"2025-12-11T00:00","series":"Wandelanleihen","value":117.8},
{"date":"2025-12-12T00:00","series":"Wandelanleihen","value":118.4},
{"date":"2025-12-14T00:00","series":"Wandelanleihen","value":118.4},
{"date":"2025-12-15T00:00","series":"Wandelanleihen","value":119.1},
{"date":"2025-12-16T00:00","series":"Wandelanleihen","value":119.4},
{"date":"2025-12-18T00:00","series":"Wandelanleihen","value":119.4},
{"date":"2025-12-19T00:00","series":"Wandelanleihen","value":119.1},
{"date":"2025-12-21T12:00","series":"Wandelanleihen","value":119.1},
{"date":"2025-12-23T00:00","series":"Wandelanleihen","value":118.7},
{"date":"2025-12-24T00:00","series":"Wandelanleihen","value":119.7},
{"date":"2025-12-25T12:00","series":"Wandelanleihen","value":120.2},
{"date":"2025-12-26T00:00","series":"Wandelanleihen","value":119.9},
{"date":"2025-12-29T12:00","series":"Wandelanleihen","value":119.9},
{"date":"2025-12-30T00:00","series":"Wandelanleihen","value":121.5},
{"date":"2025-12-31T00:00","series":"Wandelanleihen","value":123.0},
{"date":"2026-01-01T12:00","series":"Wandelanleihen","value":122.5},
{"date":"2026-01-02T12:00","series":"Wandelanleihen","value":120.9},
{"date":"2026-01-05T12:00","series":"Wandelanleihen","value":120.9},
{"date":"2026-01-06T12:00","series":"Wandelanleihen","value":121.9},
{"date":"2026-01-08T00:00","series":"Wandelanleihen","value":119.6},
{"date":"2026-01-09T00:00","series":"Wandelanleihen","value":121.6},
{"date":"2026-01-11T00:00","series":"Wandelanleihen","value":121.6},
{"date":"2026-01-12T00:00","series":"Wandelanleihen","value":122.8},
{"date":"2026-01-13T12:00","series":"Wandelanleihen","value":122.6},
{"date":"2026-01-14T12:00","series":"Wandelanleihen","value":122.8},
{"date":"2026-01-18T12:00","series":"Wandelanleihen","value":122.8},
{"date":"2026-01-19T00:00","series":"Wandelanleihen","value":123.1},
{"date":"2026-01-21T00:00","series":"Wandelanleihen","value":123.5},
{"date":"2026-01-22T12:00","series":"Wandelanleihen","value":123.5},
{"date":"2026-01-23T00:00","series":"Wandelanleihen","value":123.8},
{"date":"2026-01-25T12:00","series":"Wandelanleihen","value":123.8},
{"date":"2026-01-26T12:00","series":"Wandelanleihen","value":123.5},
{"date":"2026-01-27T12:00","series":"Wandelanleihen","value":123.9},
{"date":"2026-01-28T12:00","series":"Wandelanleihen","value":125.2},
{"date":"2026-01-29T00:00","series":"Wandelanleihen","value":125.0},
{"date":"2026-01-30T12:00","series":"Wandelanleihen","value":124.7},
{"date":"2026-02-01T12:00","series":"Wandelanleihen","value":124.8},
{"date":"2026-02-02T12:00","series":"Wandelanleihen","value":125.0},
{"date":"2026-02-03T12:00","series":"Wandelanleihen","value":121.6},
{"date":"2026-02-05T00:00","series":"Wandelanleihen","value":120.9},
{"date":"2026-02-06T00:00","series":"Wandelanleihen","value":119.4},
{"date":"2026-02-08T00:00","series":"Wandelanleihen","value":119.4},
{"date":"2026-02-09T12:00","series":"Wandelanleihen","value":119.7},
{"date":"2026-02-10T12:00","series":"Wandelanleihen","value":121.1},
{"date":"2026-02-11T12:00","series":"Wandelanleihen","value":121.1},
{"date":"2026-02-12T00:00","series":"Wandelanleihen","value":119.9},
{"date":"2026-02-13T12:00","series":"Wandelanleihen","value":119.4},
{"date":"2026-02-15T12:00","series":"Wandelanleihen","value":119.4},
{"date":"2026-02-16T00:00","series":"Wandelanleihen","value":120.6},
{"date":"2026-02-17T00:00","series":"Wandelanleihen","value":121.7},
{"date":"2026-02-18T12:00","series":"Wandelanleihen","value":122.1},
{"date":"2026-02-19T12:00","series":"Wandelanleihen","value":121.7},
{"date":"2026-02-20T12:00","series":"Wandelanleihen","value":119.7},
{"date":"2026-02-22T12:00","series":"Wandelanleihen","value":119.7},
{"date":"2026-02-23T00:00","series":"Wandelanleihen","value":119.1},
{"date":"2026-02-24T00:00","series":"Wandelanleihen","value":120.5},
{"date":"2026-02-25T00:00","series":"Wandelanleihen","value":121.1},
{"date":"2026-02-26T00:00","series":"Wandelanleihen","value":118.8},
{"date":"2026-02-27T00:00","series":"Wandelanleihen","value":117.8},
{"date":"2026-03-01T00:00","series":"Wandelanleihen","value":117.8},
{"date":"2026-03-02T12:00","series":"Wandelanleihen","value":116.5},
{"date":"2026-03-03T12:00","series":"Wandelanleihen","value":118.4},
{"date":"2026-03-04T00:00","series":"Wandelanleihen","value":120.3},
{"date":"2026-03-05T12:00","series":"Wandelanleihen","value":120.4},
{"date":"2026-03-06T12:00","series":"Wandelanleihen","value":120.9},
{"date":"2026-03-09T12:00","series":"Wandelanleihen","value":120.9},
{"date":"2026-03-10T12:00","series":"Wandelanleihen","value":121.2},
{"date":"2026-03-11T00:00","series":"Wandelanleihen","value":124.9},
{"date":"2026-03-12T12:00","series":"Wandelanleihen","value":124.4},
{"date":"2026-03-13T12:00","series":"Wandelanleihen","value":124.7},
{"date":"2026-03-16T12:00","series":"Wandelanleihen","value":124.7},
{"date":"2026-03-17T12:00","series":"Wandelanleihen","value":126.1},
{"date":"2026-03-18T12:00","series":"Wandelanleihen","value":126.3},
{"date":"2026-03-19T12:00","series":"Wandelanleihen","value":126.9},
{"date":"2026-03-20T12:00","series":"Wandelanleihen","value":127.4},
{"date":"2026-03-22T12:00","series":"Wandelanleihen","value":127.4},
{"date":"2026-03-23T00:00","series":"Wandelanleihen","value":127.7},
{"date":"2026-03-24T12:00","series":"Wandelanleihen","value":127.4},
{"date":"2026-03-25T12:00","series":"Wandelanleihen","value":127.7},
{"date":"2026-03-26T12:00","series":"Wandelanleihen","value":127.5},
{"date":"2026-03-27T12:00","series":"Wandelanleihen","value":127.8},
{"date":"2026-03-30T00:00","series":"Wandelanleihen","value":127.8},
{"date":"2026-03-30T12:00","series":"Wandelanleihen","value":128.0},
{"date":"2026-03-31T12:00","series":"Wandelanleihen","value":126.9},
{"date":"2026-04-02T00:00","series":"Wandelanleihen","value":127.5},
{"date":"2026-04-02T12:00","series":"Wandelanleihen","value":128.2},
{"date":"2026-04-03T12:00","series":"Wandelanleihen","value":128.6},
{"date":"2026-04-05T12:00","series":"Wandelanleihen","value":128.6},
{"date":"2026-04-06T12:00","series":"Wandelanleihen","value":129.1},
{"date":"2026-04-08T00:00","series":"Wandelanleihen","value":129.9},
{"date":"2026-04-08T12:00","series":"Wandelanleihen","value":131.2},
{"date":"2026-04-09T12:00","series":"Wandelanleihen","value":130.9},
{"date":"2026-04-10T12:00","series":"Wandelanleihen","value":131.7},
{"date":"2026-04-12T12:00","series":"Wandelanleihen","value":131.7},
{"date":"2026-04-13T12:00","series":"Wandelanleihen","value":132.9},
{"date":"2026-04-14T12:00","series":"Wandelanleihen","value":132.0},
{"date":"2026-04-15T12:00","series":"Wandelanleihen","value":133.0},
{"date":"2026-04-16T12:00","series":"Wandelanleihen","value":132.7},
{"date":"2026-04-17T12:00","series":"Wandelanleihen","value":130.8},
{"date":"2026-04-19T12:00","series":"Wandelanleihen","value":130.8},
{"date":"2026-04-20T00:00","series":"Wandelanleihen","value":129.8},
{"date":"2026-04-21T12:00","series":"Wandelanleihen","value":129.2},
{"date":"2026-04-23T00:00","series":"Wandelanleihen","value":129.8},
{"date":"2026-04-24T00:00","series":"Wandelanleihen","value":131.1},
{"date":"2026-04-25T00:00","series":"Wandelanleihen","value":131.6},
{"date":"2026-04-26T12:00","series":"Wandelanleihen","value":131.6},
{"date":"2026-04-28T00:00","series":"Wandelanleihen","value":132.1},
{"date":"2026-04-28T12:00","series":"Wandelanleihen","value":133.1},
{"date":"2026-04-29T12:00","series":"Wandelanleihen","value":132.8},
{"date":"2026-04-30T00:00","series":"Wandelanleihen","value":132.9},
{"date":"2026-05-01T00:00","series":"Wandelanleihen","value":133.4},
{"date":"2026-05-02T00:00","series":"Wandelanleihen","value":134.2},
{"date":"2026-05-03T12:00","series":"Wandelanleihen","value":134.2},
{"date":"2025-05-02T12:00","series":"Versicherungsverbriefung","value":100.3},
{"date":"2025-05-14T00:00","series":"Versicherungsverbriefung","value":100.4},
{"date":"2025-05-15T12:00","series":"Versicherungsverbriefung","value":100.6},
{"date":"2025-05-28T12:00","series":"Versicherungsverbriefung","value":100.6},
{"date":"2025-05-30T00:00","series":"Versicherungsverbriefung","value":100.9},
{"date":"2025-06-03T12:00","series":"Versicherungsverbriefung","value":100.9},
{"date":"2025-06-04T12:00","series":"Versicherungsverbriefung","value":101.2},
{"date":"2025-06-11T00:00","series":"Versicherungsverbriefung","value":101.2},
{"date":"2025-06-11T12:00","series":"Versicherungsverbriefung","value":100.8},
{"date":"2025-06-12T12:00","series":"Versicherungsverbriefung","value":101.4},
{"date":"2025-06-15T00:00","series":"Versicherungsverbriefung","value":101.4},
{"date":"2025-06-16T12:00","series":"Versicherungsverbriefung","value":101.1},
{"date":"2025-06-19T00:00","series":"Versicherungsverbriefung","value":101.0},
{"date":"2025-06-19T12:00","series":"Versicherungsverbriefung","value":101.5},
{"date":"2025-06-26T00:00","series":"Versicherungsverbriefung","value":101.5},
{"date":"2025-06-27T00:00","series":"Versicherungsverbriefung","value":101.9},
{"date":"2025-07-01T12:00","series":"Versicherungsverbriefung","value":101.9},
{"date":"2025-07-02T12:00","series":"Versicherungsverbriefung","value":102.2},
{"date":"2025-07-09T12:00","series":"Versicherungsverbriefung","value":102.2},
{"date":"2025-07-11T00:00","series":"Versicherungsverbriefung","value":102.4},
{"date":"2025-07-16T12:00","series":"Versicherungsverbriefung","value":102.4},
{"date":"2025-07-17T12:00","series":"Versicherungsverbriefung","value":102.9},
{"date":"2025-07-23T12:00","series":"Versicherungsverbriefung","value":102.9},
{"date":"2025-07-24T12:00","series":"Versicherungsverbriefung","value":103.3},
{"date":"2025-07-30T12:00","series":"Versicherungsverbriefung","value":103.3},
{"date":"2025-08-01T00:00","series":"Versicherungsverbriefung","value":103.9},
{"date":"2025-08-06T12:00","series":"Versicherungsverbriefung","value":103.9},
{"date":"2025-08-08T00:00","series":"Versicherungsverbriefung","value":104.3},
{"date":"2025-08-13T12:00","series":"Versicherungsverbriefung","value":104.3},
{"date":"2025-08-14T00:00","series":"Versicherungsverbriefung","value":104.0},
{"date":"2025-08-15T00:00","series":"Versicherungsverbriefung","value":104.7},
{"date":"2025-08-21T00:00","series":"Versicherungsverbriefung","value":104.7},
{"date":"2025-08-21T12:00","series":"Versicherungsverbriefung","value":105.5},
{"date":"2025-08-25T00:00","series":"Versicherungsverbriefung","value":105.5},
{"date":"2025-08-25T12:00","series":"Versicherungsverbriefung","value":105.2},
{"date":"2025-08-28T00:00","series":"Versicherungsverbriefung","value":105.2},
{"date":"2025-08-29T00:00","series":"Versicherungsverbriefung","value":106.0},
{"date":"2025-09-04T00:00","series":"Versicherungsverbriefung","value":106.0},
{"date":"2025-09-05T00:00","series":"Versicherungsverbriefung","value":106.3},
{"date":"2025-09-10T12:00","series":"Versicherungsverbriefung","value":106.3},
{"date":"2025-09-12T00:00","series":"Versicherungsverbriefung","value":106.5},
{"date":"2025-09-17T12:00","series":"Versicherungsverbriefung","value":106.5},
{"date":"2025-09-19T00:00","series":"Versicherungsverbriefung","value":106.8},
{"date":"2025-09-25T00:00","series":"Versicherungsverbriefung","value":106.8},
{"date":"2025-09-26T00:00","series":"Versicherungsverbriefung","value":107.0},
{"date":"2025-10-02T00:00","series":"Versicherungsverbriefung","value":107.0},
{"date":"2025-10-03T00:00","series":"Versicherungsverbriefung","value":106.7},
{"date":"2025-10-09T00:00","series":"Versicherungsverbriefung","value":106.7},
{"date":"2025-10-10T00:00","series":"Versicherungsverbriefung","value":107.0},
{"date":"2025-10-13T00:00","series":"Versicherungsverbriefung","value":107.0},
{"date":"2025-10-14T00:00","series":"Versicherungsverbriefung","value":106.7},
{"date":"2025-10-16T00:00","series":"Versicherungsverbriefung","value":106.7},
{"date":"2025-10-17T00:00","series":"Versicherungsverbriefung","value":107.0},
{"date":"2025-10-27T12:00","series":"Versicherungsverbriefung","value":107.0},
{"date":"2025-10-29T00:00","series":"Versicherungsverbriefung","value":107.3},
{"date":"2025-11-13T00:00","series":"Versicherungsverbriefung","value":107.3},
{"date":"2025-11-14T00:00","series":"Versicherungsverbriefung","value":107.6},
{"date":"2025-11-15T00:00","series":"Versicherungsverbriefung","value":107.3},
{"date":"2025-11-20T12:00","series":"Versicherungsverbriefung","value":107.3},
{"date":"2025-11-21T00:00","series":"Versicherungsverbriefung","value":107.5},
{"date":"2025-12-02T00:00","series":"Versicherungsverbriefung","value":107.5},
{"date":"2025-12-03T12:00","series":"Versicherungsverbriefung","value":107.8},
{"date":"2025-12-05T12:00","series":"Versicherungsverbriefung","value":107.4},
{"date":"2025-12-11T00:00","series":"Versicherungsverbriefung","value":107.4},
{"date":"2025-12-12T00:00","series":"Versicherungsverbriefung","value":107.8},
{"date":"2026-01-01T12:00","series":"Versicherungsverbriefung","value":107.8},
{"date":"2026-01-02T12:00","series":"Versicherungsverbriefung","value":108.0},
{"date":"2026-01-07T00:00","series":"Versicherungsverbriefung","value":108.0},
{"date":"2026-01-08T00:00","series":"Versicherungsverbriefung","value":107.7},
{"date":"2026-01-09T12:00","series":"Versicherungsverbriefung","value":108.0},
{"date":"2026-01-29T12:00","series":"Versicherungsverbriefung","value":108.0},
{"date":"2026-01-30T12:00","series":"Versicherungsverbriefung","value":108.3},
{"date":"2026-02-19T00:00","series":"Versicherungsverbriefung","value":108.2},
{"date":"2026-02-20T00:00","series":"Versicherungsverbriefung","value":108.5},
{"date":"2026-02-26T12:00","series":"Versicherungsverbriefung","value":108.5},
{"date":"2026-02-27T00:00","series":"Versicherungsverbriefung","value":108.7},
{"date":"2026-03-26T12:00","series":"Versicherungsverbriefung","value":108.7},
{"date":"2026-03-27T00:00","series":"Versicherungsverbriefung","value":108.9},
{"date":"2026-03-31T12:00","series":"Versicherungsverbriefung","value":108.9},
{"date":"2026-04-01T12:00","series":"Versicherungsverbriefung","value":108.7},
{"date":"2026-04-02T12:00","series":"Versicherungsverbriefung","value":108.9},
{"date":"2026-04-16T12:00","series":"Versicherungsverbriefung","value":108.9},
{"date":"2026-04-17T12:00","series":"Versicherungsverbriefung","value":109.2},
{"date":"2026-04-22T12:00","series":"Versicherungsverbriefung","value":109.2},
{"date":"2026-04-23T12:00","series":"Versicherungsverbriefung","value":108.9},
{"date":"2026-04-24T12:00","series":"Versicherungsverbriefung","value":109.2},
{"date":"2026-04-30T12:00","series":"Versicherungsverbriefung","value":109.2},
{"date":"2026-05-01T12:00","series":"Versicherungsverbriefung","value":109.4},
{"date":"2026-05-02T12:00","series":"Versicherungsverbriefung","value":109.1},
{"date":"2026-05-03T12:00","series":"Versicherungsverbriefung","value":109.1}
  ]},
  "mark": {"type": "line", "strokeWidth": 6.5, "strokeJoin": "round", "strokeCap": "round", "clip": false},
  "encoding": {
    "x": {
      "field": "date", "type": "temporal",
      "scale": {"domain": [{"year": 2025, "month": 5, "date": 1}, {"year": 2026, "month": 5, "date": 1}], "nice": false},
      "axis": {
        "values": [{"year": 2025, "month": 5, "date": 1}, {"year": 2025, "month": 8, "date": 1}, {"year": 2025, "month": 11, "date": 1}, {"year": 2026, "month": 2, "date": 1}, {"year": 2026, "month": 5, "date": 1}],
        "labelExpr": "(['Jan.','Feb.','März','Apr.','Mai','Juni','Juli','Aug.','Sep.','Okt.','Nov.','Dez.'])[month(datum.value)] + ' ' + year(datum.value)",
        "labelFontSize": 60, "labelPadding": 26, "labelFlush": false, "labelOverlap": false, "labelLimit": 1000,
        "tickSize": 22, "tickWidth": 3, "domainWidth": 3
      }
    },
    "y": {
      "field": "value", "type": "quantitative",
      "scale": {"domain": [90, 160], "nice": false, "zero": false},
      "axis": {
        "values": [90, 100, 110, 120, 130, 140, 150, 160],
        "labelFontSize": 60, "labelPadding": 30, "ticks": false, "tickSize": 0, "domainWidth": 4
      }
    },
    "color": {
      "field": "series", "type": "nominal",
      "scale": {
        "domain": ["Immobilien", "Wandelanleihen", "Gold", "Versicherungsverbriefung"],
        "range": ["#00705B", "#FFD23F", "#F2B40F", "#0E9B84"]
      },
      "legend": {
        "orient": "none", "legendX": -103, "legendY": 1302, "columns": 2, "title": null,
        "symbolType": "stroke", "symbolSize": 22500, "symbolStrokeWidth": 8, "clipHeight": 60,
        "labelFontSize": 62, "labelOffset": 10, "labelLimit": 2000,
        "columnPadding": 824, "rowPadding": 42, "padding": 0
      }
    }
  }
}
